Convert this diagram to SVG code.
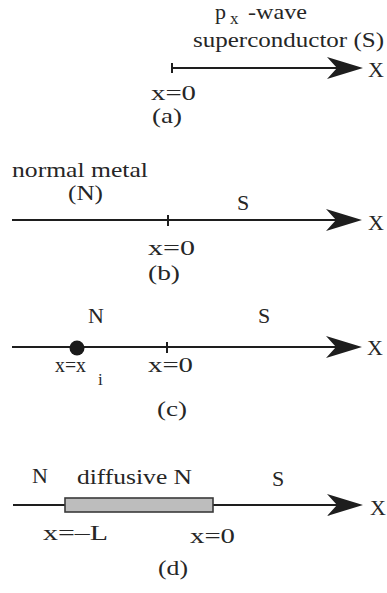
<svg xmlns="http://www.w3.org/2000/svg" width="387" height="593" viewBox="0 0 387 593">
<style>
text{font-family:"Liberation Serif","Times New Roman",serif;font-size:22px;fill:#262626}
.sub{font-size:17px}
.ax{stroke:#1e1e1e;stroke-width:2.2;fill:none}
.tick{stroke:#1e1e1e;stroke-width:2}
</style>
<defs>
<marker id="arr" markerUnits="userSpaceOnUse" markerWidth="40" markerHeight="26" viewBox="-36 -13 40 26" refX="-26" refY="0" orient="auto">
<path d="M0,0 L-36,-11 L-26,0 L-36,11 Z" fill="#1e1e1e"/>
</marker>
</defs>
<rect width="387" height="593" fill="#fff"/>
<g id="connectors">
<line class="ax" x1="172" y1="68" x2="337" y2="68" marker-end="url(#arr)"/>
<line class="tick" x1="172" y1="63" x2="172" y2="73"/>
<line class="ax" x1="12" y1="220" x2="336" y2="220" marker-end="url(#arr)"/>
<line class="tick" x1="168" y1="215" x2="168" y2="226"/>
<line class="ax" x1="12" y1="347" x2="336" y2="347" marker-end="url(#arr)"/>
<line class="tick" x1="167" y1="342" x2="167" y2="353"/>
<line class="ax" x1="13" y1="505" x2="337" y2="505" marker-end="url(#arr)"/>
</g>
<g id="panel-a">
<text x="215" y="19">p</text>
<text class="sub" x="230" y="24">x</text>
<text x="248" y="19" textLength="59" lengthAdjust="spacingAndGlyphs">-wave</text>
<text x="193" y="47" textLength="191" lengthAdjust="spacingAndGlyphs">superconductor (S)</text>
<text x="151" y="100" textLength="45" lengthAdjust="spacingAndGlyphs">x=0</text>
<text x="152" y="123" textLength="30" lengthAdjust="spacingAndGlyphs">(a)</text>
<text x="368" y="77">X</text>
</g>
<g id="panel-b">
<text x="12" y="177" textLength="136" lengthAdjust="spacingAndGlyphs">normal metal</text>
<text x="68" y="200" textLength="35" lengthAdjust="spacingAndGlyphs">(N)</text>
<text x="237" y="210">S</text>
<text x="148" y="255" textLength="47" lengthAdjust="spacingAndGlyphs">x=0</text>
<text x="148" y="280" textLength="32" lengthAdjust="spacingAndGlyphs">(b)</text>
<text x="368" y="230">X</text>
</g>
<g id="panel-c">
<text x="88" y="323">N</text>
<text x="258" y="323">S</text>
<circle cx="77" cy="348" r="7.5" fill="#1a1a1a"/>
<text x="55" y="372" textLength="31" lengthAdjust="spacingAndGlyphs">x=x</text>
<text class="sub" x="98" y="385">i</text>
<text x="148" y="372" textLength="45" lengthAdjust="spacingAndGlyphs">x=0</text>
<text x="157" y="416" textLength="30" lengthAdjust="spacingAndGlyphs">(c)</text>
<text x="367" y="355">X</text>
</g>
<g id="panel-d">
<text x="32" y="483">N</text>
<text x="77" y="484" textLength="115" lengthAdjust="spacingAndGlyphs">diffusive N</text>
<text x="272" y="486">S</text>
<rect x="65" y="498" width="148" height="14" fill="#bdbdbd" stroke="#3a3a3a" stroke-width="1.6"/>
<text x="43" y="540" textLength="65" lengthAdjust="spacingAndGlyphs">x=–L</text>
<text x="190" y="543" textLength="45" lengthAdjust="spacingAndGlyphs">x=0</text>
<text x="158" y="575" textLength="30" lengthAdjust="spacingAndGlyphs">(d)</text>
<text x="370" y="515">X</text>
</g>
</svg>
